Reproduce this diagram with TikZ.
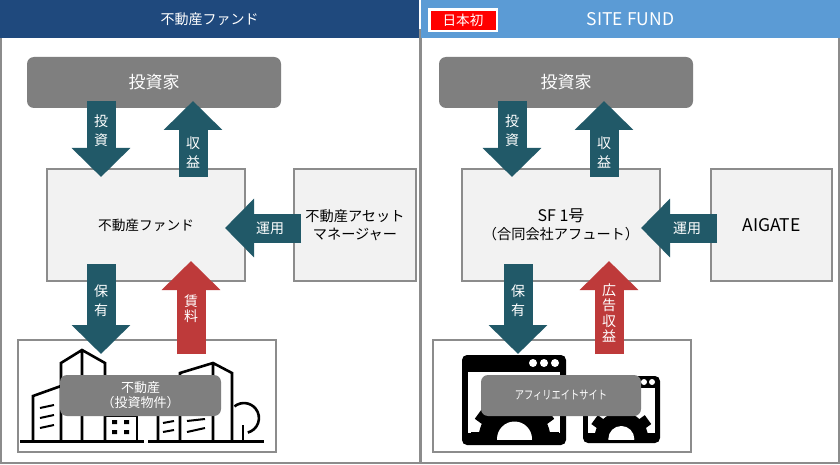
\documentclass[tikz,border=0pt]{standalone}
\usepackage{fontspec}
\usepackage{graphicx}
\setmainfont{Noto Sans CJK JP}
\usetikzlibrary{arrows.meta,calc}
\definecolor{headdark}{HTML}{1F497D}
\definecolor{headlight}{HTML}{5B9BD5}
\definecolor{framegray}{HTML}{8C8C8C}
\definecolor{boxgray}{HTML}{7F7F7F}
\definecolor{boxlight}{HTML}{F2F2F2}
\definecolor{teal}{HTML}{215968}
\definecolor{redarrow}{HTML}{BE3A3A}
\tikzset{
  x=1pt,y=-1pt,
  every node/.style={inner sep=0pt,outer sep=0pt,align=center},
  panel/.style={draw=framegray,line width=1.5pt,fill=white},
  header/.style={text=white,font=\fontsize{14}{18}\selectfont,minimum height=38pt},
  graybox/.style={fill=boxgray,rounded corners=7pt,text=white},
  lightbox/.style={draw=framegray,line width=2pt,fill=boxlight,font=\fontsize{14.2}{18.5}\selectfont,text=black},
  holdbox/.style={draw=framegray,line width=2pt,fill=white},
  fat/.style={line width=29pt,-{Triangle[length=29pt,width=57pt]}},
  tealarrow/.style={fat,draw=teal},
  redfat/.style={fat,draw=redarrow},
  arrowlabel/.style={text=white,font=\fontsize{14}{19}\selectfont},
  ink/.style={draw=black,line width=2.6pt,line join=miter,fill=none},
  thin ink/.style={draw=black,line width=2pt},
}
\newcommand{\sitewindow}[9]{% x0 y0 x1 y1 ix0 iy0 ix1 iy1 cx
  \fill[black,rounded corners=5pt] (#1,#2) rectangle (#3,#4);
  \begin{scope}
    \clip (#5,#6) rectangle (#7,#8);
    \fill[white] (#5,#6) rectangle (#7,#8);
    \begin{scope}[shift={(#9,439)}]
      \fill[black] (0,0) circle[radius=\gearin];
      \foreach \a in {0,36,...,324}
        \fill[black,rotate=\a] (0,-\gearw) rectangle (\gearout,\gearw);
    \end{scope}
  \end{scope}
  \begin{scope}[shift={(#9,439)}]
    \begin{scope}
      \clip (-60,-60) rectangle (60,0);
      \fill[white] (0,0) circle[radius=\gearhole];
    \end{scope}
  \end{scope}
}
\begin{document}
\begin{tikzpicture}
\useasboundingbox (0,0) rectangle (840,465);
\fill[white] (0,0) rectangle (840,465);
% panels
\draw[panel] (1,30) rectangle (420,463);
\draw[panel] (421,30) rectangle (839,463);
\node[header,fill=headdark,minimum width=419pt,anchor=north west] (headL) at (0,0) {不動産ファンド};
\node[header,fill=headlight,minimum width=419pt,anchor=north west,font=\fontsize{17.5}{20}\selectfont] (headR) at (421,0) {SITE FUND};
\node[fill=white,minimum width=70pt,minimum height=24pt] (badgeback) at (463,20) {};
\node[fill=red,text=white,minimum width=65pt,minimum height=19pt,font=\fontsize{13.6}{15}\selectfont] (badge) at (463,20.5) {日本初};
% left side boxes
\node[graybox,minimum width=254pt,minimum height=51pt,font=\fontsize{17}{20}\selectfont] (inv1) at (154,82.5) {投資家};
\node[lightbox,minimum width=198pt,minimum height=112pt,font=\fontsize{13.7}{18}\selectfont] (fund1) at (146,225) {不動産ファンド};
\node[lightbox,minimum width=122pt,minimum height=112pt] (am1) at (355,225) {不動産アセット\\マネージャー};
\node[holdbox,minimum width=258pt,minimum height=112pt] (prop1) at (147,396) {};
% right side boxes
\node[graybox,minimum width=254pt,minimum height=51pt,font=\fontsize{17}{20}\selectfont] (inv2) at (566,82.5) {投資家};
\node[lightbox,minimum width=198pt,minimum height=112pt] (fund2) at (561,225) {{\fontsize{16}{18}\selectfont SF 1号}\\（合同会社アフュート）};
\node[lightbox,minimum width=121pt,minimum height=112pt,font=\fontsize{17.5}{20}\selectfont] (am2) at (771.5,225) {AIGATE};
\node[holdbox,minimum width=258pt,minimum height=112pt] (prop2) at (562,396) {};
% building icon
\draw[ink,line width=3pt] (20,441) -- (144,441) (148,441) -- (264,441);
\draw[ink] (61,440) -- (61,363) -- (82,350) -- (105,363) -- (105,440) (82,350) -- (82,440);
\draw[ink] (33,440) -- (33,396) -- (61,386);
\draw[thin ink] (40,408) -- (54,405) (40,418) -- (54,415) (40,428) -- (54,425);
\draw[ink] (105,416) -- (137,416) -- (137,440);
\fill[black] (112,420) rectangle (117,424) (124,420) rectangle (129,424) (112,430) rectangle (117,434) (124,430) rectangle (129,434);
\draw[ink] (158,440) -- (158,410) (180,440) -- (180,373) -- (213,363) -- (232,373) -- (232,440) (213,363) -- (213,440);
\draw[thin ink] (163,423) -- (174,421) (163,432) -- (174,430) (187,421) -- (205,419) (187,432) -- (205,428);
\draw[ink] (243,425) -- (243,440);
\draw[ink] (234.5,406.4) arc[start angle=231,end angle=435,radius=15];
% site icons
\def\gearin{36}\def\gearout{44}\def\gearw{7}\def\gearhole{17.5}
\sitewindow{462}{355}{566}{445}{468}{372}{560}{433}{514.5}
\fill[white] (533,363) circle[radius=4] (544,363) circle[radius=4] (555,363) circle[radius=4];
\def\gearin{27}\def\gearout{33}\def\gearw{5.5}\def\gearhole{13}
\sitewindow{583}{376}{660}{443}{588}{388}{655}{433}{621.3}
\fill[white] (644,382) circle[radius=3] (652,382) circle[radius=3] (636,382) circle[radius=3];
% inner boxes
\node[graybox,minimum width=161pt,minimum height=41pt,font=\fontsize{13}{15}\selectfont] (inner1) at (140.5,395.5) {不動産\\（投資物件）};
\node[graybox,minimum width=160pt,minimum height=41pt,font=\fontsize{12}{15}\selectfont] (inner2) at (561,395.5) {\scalebox{.77}[1]{アフィリエイトサイト}};
% left arrows
\draw[tealarrow] ($(inv1.south)+(-53,-7)$) -- ($(fund1.north)+(-45,8)$);
\draw[tealarrow] ($(fund1.north)+(47,8)$) -- ($(inv1.south)+(39,-7)$);
\draw[tealarrow] ($(am1.west)+(7,3)$) -- ($(fund1.east)+(-20,3)$);
\draw[tealarrow] ($(fund1.south)+(-45,-17)$) -- ($(prop1.north)+(-46,14)$);
\draw[redfat] ($(prop1.north)+(44,14)$) -- ($(fund1.south)+(45,-20)$);
% right arrows
\draw[tealarrow] ($(inv2.south)+(-54,-7)$) -- ($(fund2.north)+(-49,8)$);
\draw[tealarrow] ($(fund2.north)+(43,8)$) -- ($(inv2.south)+(38,-7)$);
\draw[tealarrow] ($(am2.west)+(6,3)$) -- ($(fund2.east)+(-19,3)$);
\draw[tealarrow] ($(fund2.south)+(-43,-17)$) -- ($(prop2.north)+(-44,14)$);
\draw[redfat] ($(prop2.north)+(47,14)$) -- ($(fund2.south)+(48,-20)$);
% arrow labels
\node[arrowlabel] (lab1) at (101,131) {投\\資};
\node[arrowlabel] (lab2) at (193,152.5) {収\\益};
\node[arrowlabel] (lab3) at (270,228) {運用};
\node[arrowlabel] (lab4) at (101,300.5) {保\\有};
\node[arrowlabel,font=\fontsize{14}{15}\selectfont] (lab5) at (191,309) {賃\\料};
\node[arrowlabel] (lab6) at (512,131) {投\\資};
\node[arrowlabel] (lab7) at (604,152.5) {収\\益};
\node[arrowlabel] (lab8) at (687,228) {運用};
\node[arrowlabel] (lab9) at (518,300.5) {保\\有};
\node[arrowlabel,font=\fontsize{14}{15.5}\selectfont] (lab10) at (609,313) {広\\告\\収\\益};
\end{tikzpicture}
\end{document}
